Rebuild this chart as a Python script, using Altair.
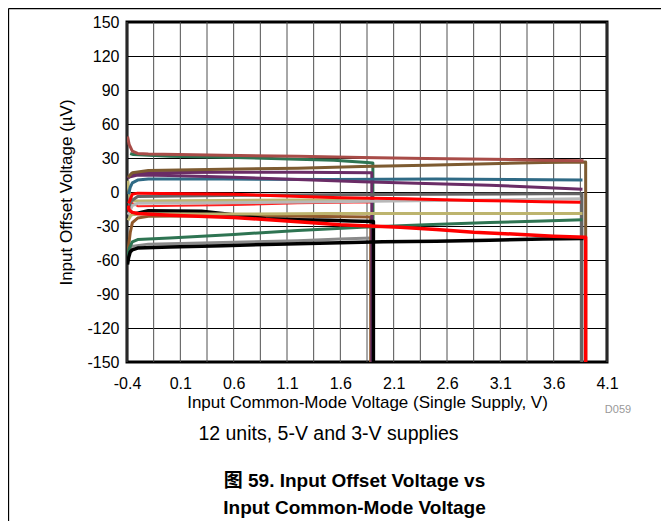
import altair as alt
import pandas as pd

# ---------------- data ----------------
x_ticks = [-0.4, 0.1, 0.6, 1.1, 1.6, 2.1, 2.6, 3.1, 3.6, 4.1]
x_grid = [-0.4, -0.15, 0.1, 0.35, 0.6, 0.85, 1.1, 1.35, 1.6, 1.85, 2.1,
          2.35, 2.6, 2.85, 3.1, 3.35, 3.6, 3.85, 4.1]
y_ticks = [-150, -120, -90, -60, -30, 0, 30, 60, 90, 120, 150]

# 3-V supply units (end near 1.9 V)
thinred3_x = [-0.385, -0.3, 0.6, 1.2, 1.9, 1.9]
thinred3_y = [-8, -12.5, -11.5, -10, -9, -150]
gray3_x = [-0.39, -0.36, -0.2, 0.5, 1.2, 1.6, 1.89, 1.89]
gray3_y = [-58, -48, -46, -44.5, -43, -41.5, -40.5, -150]
sienna3_x = [-0.395, -0.385, -0.37, -0.35, -0.3, -0.2, 0.5, 1.2, 1.885, 1.885]
sienna3_y = [-60, -48, -36, -27, -23, -21.5, -21, -21.5, -22, -150]
khaki3_x = [-0.392, -0.385, -0.37, -0.33, 0.5, 1.2, 1.905, 1.905]
khaki3_y = [10, 3, -5, -8, -7.5, -7, -7, -150]
green3_x = [-0.37, -0.34, 0.0, 0.6, 1.2, 1.54, 1.85, 1.905, 1.905]
green3_y = [34, 33, 31.5, 30.5, 29, 28, 26, 25.5, -150]
purple3_x = [-0.392, -0.36, -0.2, 0.5, 1.2, 1.895, 1.895]
purple3_y = [12, 16, 17, 17.5, 17.5, 17, -150]
black3_x = [-0.36, -0.2, 0.3, 0.6, 0.9, 1.2, 1.5, 1.7, 1.91, 1.91]
black3_y = [-20, -16.5, -17, -20, -23.5, -24.5, -25, -25.5, -26, -150]

# 5-V supply units (end near 3.9 V)
blue5_x = [-0.385, -0.37, -0.35, -0.3, -0.2, 0.5, 1.5, 2.5, 3.2, 3.87]
blue5_y = [-2, 4, 8, 10.5, 11.5, 11.5, 11, 11.5, 11, 10.5]
purple5_x = [-0.39, -0.3, 0.0, 0.6, 1.2, 1.8, 2.4, 3.0, 3.5, 3.87]
purple5_y = [13, 15, 14.5, 13, 11, 9, 7.5, 6, 4, 2.5]
lgray5_x = [-0.39, -0.35, -0.3, 0.5, 1.5, 2.5, 3.5, 3.87]
lgray5_y = [-20, -12, -10, -9.5, -8.5, -7.5, -6.5, -6]
dgray5_x = [-0.39, -0.36, -0.3, 0.5, 1.5, 2.5, 3.5, 3.865, 3.865]
dgray5_y = [-15, -8, -4, -3, -2.5, -2, -1.5, -1.5, -150]
red5b_x = [-0.385, -0.35, -0.3, 0.6, 1.6, 2.2, 2.85, 3.5, 3.85]
red5b_y = [-10, -2, -1, -2, -5, -6, -7.5, -8.5, -9]
khaki5_x = [-0.39, -0.36, -0.3, 0.5, 1.5, 2.5, 3.5, 3.87]
khaki5_y = [-25, -20, -19.5, -19.5, -19, -19, -19, -19]
green5_x = [-0.395, -0.38, -0.35, -0.3, 0.0, 0.6, 1.2, 1.8, 2.4, 3.0, 3.5, 3.87]
green5_y = [-58, -50, -44, -42, -40.5, -37.5, -34, -31, -29, -27, -25.5, -24.5]
brown5_x = [-0.39, -0.35, -0.2, 0.5, 1.2, 1.8, 2.4, 3.0, 3.5, 3.9, 3.9]
brown5_y = [13, 17, 19, 20, 21, 22.5, 23.5, 25, 26, 26.5, -150]
redbrown5_x = [-0.395, -0.38, -0.35, -0.3, -0.2, 0.5, 1.2, 1.8, 2.4, 3.0, 3.5, 3.88]
redbrown5_y = [49, 42, 36, 34, 33.5, 32.5, 31.5, 30.5, 29.5, 29, 28, 27.5]
black5_x = [-0.395, -0.385, -0.37, -0.35, -0.3, 0.0, 0.5, 1.0, 1.5, 2.0, 2.5, 3.0, 3.5, 3.88]
black5_y = [-64, -58, -53, -51, -49.5, -48.5, -47.5, -46, -45, -44, -43.5, -42.5, -41.5, -41]
red5_x = [-0.39, -0.38, -0.35, -0.3, 0.0, 0.6, 1.1, 1.6, 2.16, 2.5, 2.85, 3.3, 3.6, 3.9, 3.9]
red5_y = [-12, -16, -18, -19, -20.5, -22.5, -25.5, -29, -31, -33, -35.5, -37.5, -39, -40, -150]

# (x, y, colour, width) in drawing order
curves = [
    (thinred3_x, thinred3_y, "#FF2020", 2),
    (gray3_x, gray3_y, "#8A8A8A", 3),
    (sienna3_x, sienna3_y, "#91592B", 3),
    (khaki3_x, khaki3_y, "#BDB46E", 3),
    (green3_x, green3_y, "#2E7452", 3),
    (purple3_x, purple3_y, "#6A2C66", 3),
    (black3_x, black3_y, "#000000", 3.5),
    (blue5_x, blue5_y, "#2F6A85", 3),
    (purple5_x, purple5_y, "#6A2C66", 3),
    (lgray5_x, lgray5_y, "#B8B8B8", 3),
    (dgray5_x, dgray5_y, "#646464", 3),
    (red5b_x, red5b_y, "#FF0000", 3),
    (khaki5_x, khaki5_y, "#BDB46E", 3),
    (green5_x, green5_y, "#2E7452", 3),
    (brown5_x, brown5_y, "#7D5B31", 3),
    (redbrown5_x, redbrown5_y, "#A84C48", 3),
    (black5_x, black5_y, "#000000", 3.5),
    (red5_x, red5_y, "#FF0000", 3.5),
]

x_title = "Input Common-Mode Voltage (Single Supply, V)"
y_title = "Input Offset Voltage (µV)"
note_text = ["D059"]
subtitle_text = ["12 units, 5-V and 3-V supplies"]
caption_lines = ["图 59. Input Offset Voltage vs", "Input Common-Mode Voltage"]

FONT = "Liberation Sans, Arial, 'Noto Sans CJK SC'"

# ASCII hyphen for negative tick labels, as in the reference
x_label_expr = "(datum.value < 0 ? '-' : '') + format(abs(datum.value), '.1f')"
y_label_expr = "(datum.value < 0 ? '-' : '') + format(abs(datum.value), 'd')"

# ---------------- chart ----------------
xenc = alt.X("x:Q",
             scale=alt.Scale(domain=[-0.4, 4.1], nice=False, zero=False),
             axis=alt.Axis(values=x_ticks, labelExpr=x_label_expr, grid=False, ticks=False,
                           domain=False, labelPadding=13, labelFontSize=16,
                           labelColor="black", title=x_title, titleFontSize=17,
                           titleFontWeight="normal", titleColor="black",
                           titleX=240, titleY=40, titleBaseline="middle",
                           labelFlush=False, labelOverlap=False))
yenc = alt.Y("y:Q",
             scale=alt.Scale(domain=[-150, 150], nice=False, zero=False),
             axis=alt.Axis(values=y_ticks, labelExpr=y_label_expr, grid=True, gridColor="black",
                           gridWidth=1, gridOpacity=1, ticks=False, domain=False,
                           labelPadding=8, labelFontSize=16, labelColor="black",
                           title=y_title, titleFontSize=17, titleFontWeight="normal",
                           titleColor="black", titleX=-61, titleY=170, titleAngle=-90,
                           titleBaseline="middle", titleAlign="center",
                           labelFlush=False, labelOverlap=False))

grid_df = pd.DataFrame({"x": x_grid})
grid_layer = alt.Chart(grid_df).mark_rule(color="#505050", strokeWidth=1).encode(x=xenc)

layers = [grid_layer]
for cx, cy, col, w in curves:
    df = pd.DataFrame({"x": cx, "y": cy, "i": list(range(len(cx)))})
    layers.append(
        alt.Chart(df).mark_line(color=col, strokeWidth=w, clip=True,
                                strokeJoin="round", strokeCap="butt")
        .encode(x=xenc, y=yenc, order="i:Q")
    )

# outer frame of the figure
frame_df = pd.DataFrame({"k": [0]})
layers.append(alt.Chart(frame_df).mark_rule(color="black", strokeWidth=1.3)
              .encode(x=alt.value(-118.5), x2=alt.value(540), y=alt.value(-13.5)))
layers.append(alt.Chart(frame_df).mark_rule(color="black", strokeWidth=1.3)
              .encode(x=alt.value(-118.5), y=alt.value(-13.5), y2=alt.value(510)))

# texts below the plot
layers.append(alt.Chart(pd.DataFrame({"t": note_text})).mark_text(
    font=FONT, fontSize=11, color="#999999", align="center", baseline="middle")
    .encode(text="t:N", x=alt.value(491), y=alt.value(388)))
layers.append(alt.Chart(pd.DataFrame({"t": subtitle_text})).mark_text(
    font=FONT, fontSize=19.5, color="black", align="center", baseline="middle")
    .encode(text="t:N", x=alt.value(201.5), y=alt.value(412)))
layers.append(alt.Chart(pd.DataFrame({"t": caption_lines[:1]})).mark_text(
    font=FONT, fontSize=19, fontWeight="bold", color="black", align="center",
    baseline="middle")
    .encode(text="t:N", x=alt.value(227.5), y=alt.value(459)))
layers.append(alt.Chart(pd.DataFrame({"t": caption_lines[1:]})).mark_text(
    font=FONT, fontSize=19, fontWeight="bold", color="black", align="center",
    baseline="middle")
    .encode(text="t:N", x=alt.value(227.5), y=alt.value(486)))

chart = alt.layer(*layers).properties(
    width=480, height=340,
    autosize=alt.AutoSizeParams(type="none"),
    padding={"left": 119, "top": 14, "right": 54, "bottom": 159},
).configure(font=FONT).configure_view(stroke="black", strokeWidth=3)

chart.save("out.html", embed_options={"renderer": "svg", "actions": False})
